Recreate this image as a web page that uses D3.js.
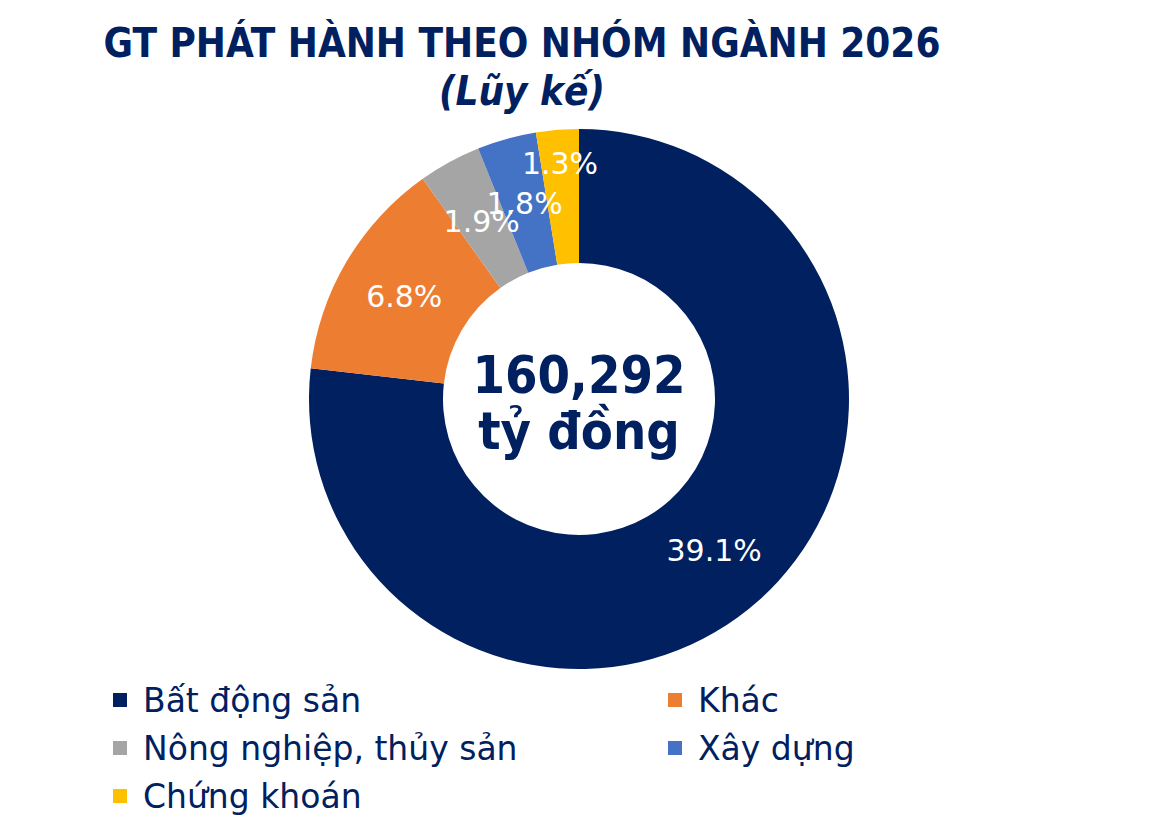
<!DOCTYPE html>
<html>
<head>
<meta charset="utf-8">
<script src="https://cdn.jsdelivr.net/npm/d3@7"></script>
<style>
  html, body { margin: 0; padding: 0; background: #fff; }
  svg { display: block; }
  text { font-family: "DejaVu Sans", Tahoma, sans-serif; }
  text.cond { font-family: "DejaVu Sans Condensed", "DejaVu Sans", Tahoma, sans-serif; }
</style>
</head>
<body>
<svg id="chart" width="1168" height="828"></svg>
<script>
// data
var categories = ["Bất động sản", "Khác", "Nông nghiệp, thủy sản", "Xây dựng", "Chứng khoán"];
var shares = [39.1, 6.8, 1.9, 1.8, 1.3];
var colors = ["#002060", "#ED7D31", "#A5A5A5", "#4472C4", "#FFC000"];
var totalLines = ["160,292", "tỷ đồng"];

var NAVY = "#002060";
var svg = d3.select("#chart");

// title
svg.append("text")
    .attr("class", "cond")
    .attr("x", 522).attr("y", 57)
    .attr("text-anchor", "middle")
    .attr("fill", NAVY)
    .style("font-weight", "bold")
    .style("font-size", "40px")
    .text("GT PHÁT HÀNH THEO NHÓM NGÀNH 2026");
svg.append("text")
    .attr("class", "cond")
    .attr("x", 522).attr("y", 105)
    .attr("text-anchor", "middle")
    .attr("fill", NAVY)
    .style("font-weight", "bold")
    .style("font-style", "italic")
    .style("font-size", "40px")
    .text("(Lũy kế)");

/*
 * donut
 */
var cx = 579, cy = 399, rOuter = 270, rInner = 136;
var pie = d3.pie().sort(null).value(function(d) { return d; });
var arc = d3.arc().innerRadius(rInner).outerRadius(rOuter);

var g = svg.append("g").attr("transform", "translate(" + cx + "," + cy + ")");
var arcs = pie(shares);

g.selectAll("path.slice")
    .data(arcs)
    .enter().append("path")
    .attr("class", "slice")
    .attr("d", arc)
    .attr("fill", function(d, i) { return colors[i]; });

// the smallest label was dragged outward in the original
var labelRadius = { 4: 237 };
g.selectAll("text.pct")
    .data(arcs)
    .enter().append("text")
    .attr("class", "pct")
    .attr("transform", function(d, i) {
        var p;
        if (labelRadius[i]) {
            p = d3.arc().innerRadius(labelRadius[i]).outerRadius(labelRadius[i]).centroid(d);
        } else {
            p = arc.centroid(d);
        }
        return "translate(" + p[0] + "," + p[1] + ")";
    })
    .attr("text-anchor", "middle")
    .attr("dy", "0.36em")
    .attr("fill", "#fff")
    .style("font-size", "30px")
    .text(function(d) { return d.data.toFixed(1) + "%"; });

// total in the hole
g.selectAll("text.total")
    .data(totalLines)
    .enter().append("text")
    .attr("class", "total cond")
    .attr("x", 0)
    .attr("y", function(d, i) { return -6 + i * 56; })
    .attr("text-anchor", "middle")
    .attr("fill", NAVY)
    .style("font-weight", "bold")
    .style("font-size", "52px")
    .text(function(d) { return d; });

/*
 * legend, two columns
 */
var legend = svg.append("g");
var item = legend.selectAll("g.item")
    .data(categories)
    .enter().append("g")
    .attr("class", "item")
    .attr("transform", function(d, i) {
        return "translate(" + (i % 2 ? 668 : 113) + "," + (700 + Math.floor(i / 2) * 48) + ")";
    });
item.append("rect")
    .attr("x", 0).attr("y", -7)
    .attr("width", 14).attr("height", 14)
    .attr("fill", function(d, i) { return colors[i]; });
item.append("text")
    .attr("x", 30).attr("y", 12)
    .attr("fill", NAVY)
    .style("font-size", "33px")
    .text(function(d) { return d; });
</script>
</body>
</html>
